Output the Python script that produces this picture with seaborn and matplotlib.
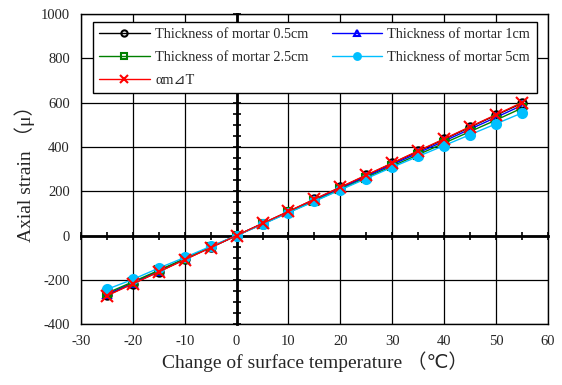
import matplotlib
matplotlib.use("Agg")
import matplotlib.pyplot as plt
import seaborn as sns
import pandas as pd
import numpy as np
from matplotlib.ticker import MultipleLocator

# data
temp = [-25, -20, -15, -10, -5, 0, 5, 10, 15, 20, 25, 30, 35, 40, 45, 50, 55]
t05 = [-270, -217, -163, -108, -54, 0, 54, 108, 163, 217, 271, 326, 380, 434, 489, 543, 597]
t1 = [-266, -213, -160, -106, -53, 0, 53, 106, 160, 213, 266, 320, 373, 426, 480, 533, 587]
t25 = [-260, -209, -157, -104, -52, 0, 52, 104, 156, 208, 261, 313, 365, 417, 469, 521, 575]
t5 = [-243, -198, -147, -99, -49, 0, 50, 103, 154, 206, 257, 308, 357, 406, 455, 504, 553]
amdt = [-272, -218, -164, -109, -55, 0, 55, 109, 164, 218, 273, 327, 382, 436, 491, 545, 600]

sns.set_style("white")
fam = ["Liberation Serif", "DejaVu Sans", "Noto Sans CJK SC"]
plt.rcParams["font.family"] = fam
plt.rcParams["axes.unicode_minus"] = False

fig = plt.figure(figsize=(5.62, 3.85), dpi=100)
pos = [0.144, 0.158, 0.831, 0.806]

# axes that carries the crossing zero axes
ax0 = fig.add_axes(pos)
ax0.set_zorder(0)
ax = fig.add_axes(pos)
ax.set_zorder(1)
ax.patch.set_alpha(0)

for a in (ax0, ax):
    a.set_xlim(-30, 60)
    a.set_ylim(-400, 1000)

ax0.spines["left"].set_position(("data", 0))
ax0.spines["bottom"].set_position(("data", 0))
ax0.spines["top"].set_visible(False)
ax0.spines["right"].set_visible(False)
for s in ("left", "bottom"):
    ax0.spines[s].set_linewidth(2)
    ax0.spines[s].set_color("black")
ax0.xaxis.set_major_locator(MultipleLocator(10))
ax0.xaxis.set_minor_locator(MultipleLocator(5))
ax0.yaxis.set_major_locator(MultipleLocator(100))
ax0.yaxis.set_minor_locator(MultipleLocator(50))
ax0.tick_params(which="both", direction="inout", length=6, width=1.2, color="black",
                labelbottom=False, labelleft=False, bottom=True, left=True)

series = [
    ("Thickness of mortar 0.5cm", t05, "black", "o", "none", 6),
    ("Thickness of mortar 1cm", t1, "blue", "^", "none", 6),
    ("Thickness of mortar 2.5cm", t25, "green", "s", "none", 5.5),
    ("Thickness of mortar 5cm", t5, "#00bfff", "o", "#00bfff", 6.5),
    ("αm⊿T", amdt, "red", "x", "red", 8),
]
handles = {}
for name, vals, col, mk, mfc, ms in series:
    df = pd.DataFrame({"x": temp, "y": vals})
    sns.lineplot(data=df, x="x", y="y", ax=ax, color=col, marker=mk, mfc=mfc,
                 mec=col, ms=ms, mew=1.5, lw=1, label=name, legend=False)
    handles[name] = ax.lines[-1]

ax.xaxis.set_major_locator(MultipleLocator(10))
ax.yaxis.set_major_locator(MultipleLocator(200))
ax.grid(True, color="black", lw=0.9)
for s in ax.spines.values():
    s.set_color("black")
    s.set_linewidth(1)
ax.tick_params(length=0, labelsize=10.5, pad=8)
ax.set_xlabel("Change of surface temperature （℃）", fontsize=14, labelpad=2)
ax.set_ylabel("Axial strain （μ）", fontsize=14, labelpad=4)

order = ["Thickness of mortar 0.5cm", "Thickness of mortar 2.5cm", "αm⊿T",
         "Thickness of mortar 1cm", "Thickness of mortar 5cm"]
leg = ax.legend([handles[k] for k in order], order, ncol=2, loc="upper right",
                bbox_to_anchor=(0.976, 0.974), markerscale=0.75,
                fancybox=False, edgecolor="black", framealpha=1, fontsize=10.3,
                handlelength=3.5, labelspacing=0.68, borderpad=0.45,
                columnspacing=1.6, handletextpad=0.4, borderaxespad=0)
leg.get_frame().set_linewidth(1)

fig.savefig("out.png", dpi=100)
